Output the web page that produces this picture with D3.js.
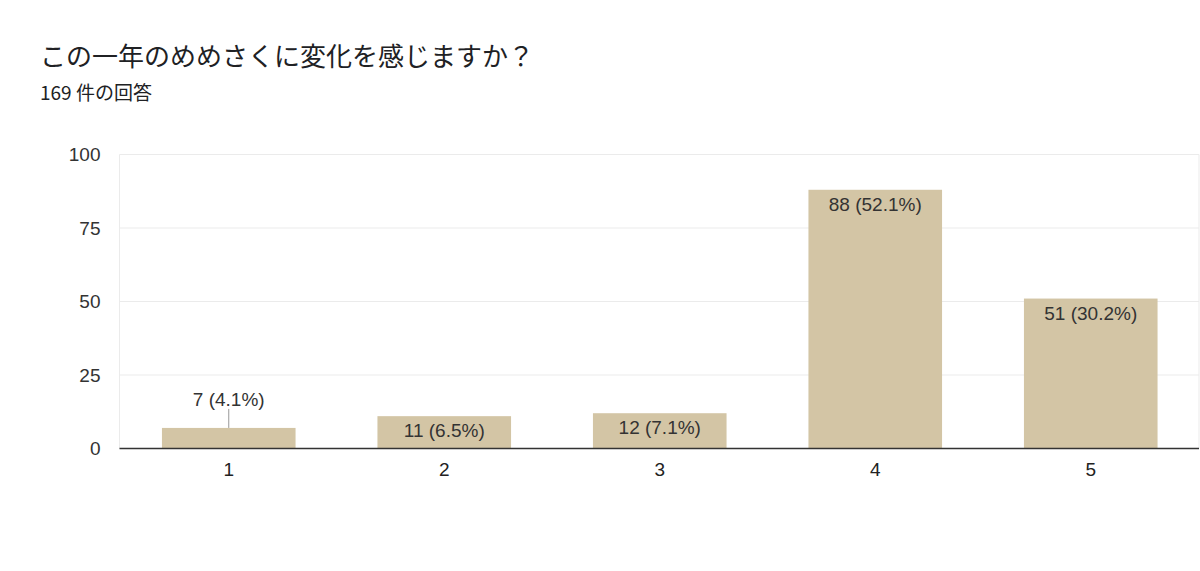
<!DOCTYPE html>
<html>
<head>
<meta charset="utf-8">
<script src="https://cdn.jsdelivr.net/npm/d3@7"></script>
<style>
  body { margin: 0; background: #fff; }
  svg { display: block; }
</style>
</head>
<body>
<script>
// answers to the question, 169 in total
var categories = ["1", "2", "3", "4", "5"];
var counts = [7, 11, 12, 88, 51];
var percents = ["4.1%", "6.5%", "7.1%", "52.1%", "30.2%"];
var yTicks = [0, 25, 50, 75, 100];

var width = 1200, height = 571;
var plotLeft = 119.5, plotRight = 1199, plotTop = 154.5, plotBottom = 448.5;

var svg = d3.select("body").append("svg")
	.attr("width", width)
	.attr("height", height);

svg.append("text")
	.attr("x", 40)
	.attr("y", 66)
	.attr("font-family", "'Noto Sans CJK JP', sans-serif")
	.attr("font-size", 26)
	.attr("fill", "#202124")
	.text("この一年のめめさくに変化を感じますか？");

svg.append("text")
	.attr("x", 40)
	.attr("y", 100)
	.attr("font-family", "'Noto Sans CJK JP', sans-serif")
	.attr("font-size", 19)
	.attr("fill", "#202124")
	.text("169 件の回答");

// bands centred a bit right of the grid box, like the original
var x = d3.scaleBand()
	.domain(categories)
	.range([121, 1198.5])
	.paddingInner(0.38)
	.paddingOuter(0.19);

var y = d3.scaleLinear()
	.domain([0, 100])
	.range([plotBottom, plotTop]);

// grid
svg.append("g")
	.selectAll("line")
	.data(yTicks)
	.join("line")
	.attr("x1", plotLeft)
	.attr("x2", plotRight)
	.attr("y1", function(d){ return y(d); })
	.attr("y2", function(d){ return y(d); })
	.attr("stroke", "#ebebeb")
	.attr("stroke-width", 1);

svg.append("g").selectAll("line")
	.data([plotLeft, plotRight])
	.join("line")
	.attr("x1", function(d){ return d; })
	.attr("x2", function(d){ return d; })
	.attr("y1", plotTop)
	.attr("y2", plotBottom)
	.attr("stroke", "#ebebeb");

// y axis labels
var yAxis = svg.append("g")
	.attr("transform", "translate(" + plotLeft + ",0)")
	.call(d3.axisLeft(y).tickValues(yTicks).tickSize(0).tickPadding(19));
yAxis.select(".domain").remove();
yAxis.selectAll("text")
	.attr("font-family", "'Liberation Sans', Arial, sans-serif")
	.attr("font-size", 19)
	.attr("fill", "#333");

// bars
svg.append("g")
	.selectAll("rect")
	.data(counts)
	.join("rect")
	.attr("x", function(d, i){ return x(categories[i]); })
	.attr("y", function(d){ return y(d); })
	.attr("width", x.bandwidth())
	.attr("height", function(d){ return y(0) - y(d); })
	.attr("fill", "#d3c5a5");

// x axis
var xAxis = svg.append("g")
	.attr("transform", "translate(0," + plotBottom + ")")
	.call(d3.axisBottom(x).tickSize(0).tickPadding(14));
xAxis.select(".domain")
	.attr("d", "M" + plotLeft + ",0H" + plotRight)
	.attr("stroke", "#333")
	.attr("stroke-width", 1.5);
xAxis.selectAll("text")
	.attr("font-family", "'Liberation Sans', Arial, sans-serif")
	.attr("font-size", 19)
	.attr("fill", "#222");

// value labels, inside the bar when it is tall enough, else above with a leader line
var labels = svg.append("g");
counts.forEach(function(d, i){
	var cx = x(categories[i]) + x.bandwidth() / 2;
	var ty = y(d) + 21;
	if(y(0) - y(d) < 25){
		labels.append("line")
			.attr("x1", cx)
			.attr("x2", cx)
			.attr("y1", y(d))
			.attr("y2", y(d) - 19)
			.attr("stroke", "#999")
			.attr("stroke-width", 1);
		ty = y(d) - 22;
	}
	labels.append("text")
		.attr("x", cx)
		.attr("y", ty)
		.attr("text-anchor", "middle")
		.attr("font-family", "'Liberation Sans', Arial, sans-serif")
		.attr("font-size", 19)
		.attr("fill", "#333")
		.text(d + " (" + percents[i] + ")");
});
</script>
</body>
</html>
